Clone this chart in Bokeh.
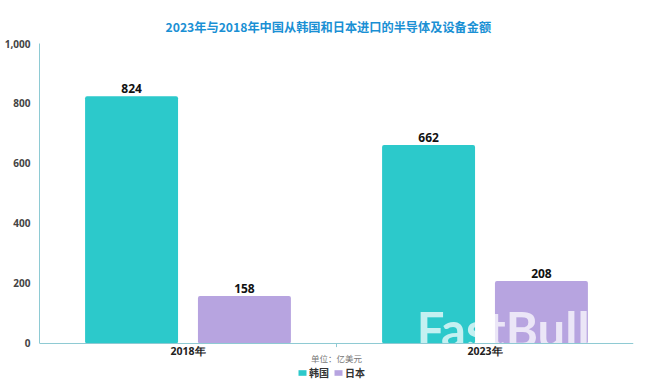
from bokeh.plotting import figure
from bokeh.models import (ColumnDataSource, FactorRange, Range1d, Label, Legend,
                          LegendItem, NumeralTickFormatter, FixedTicker, Span)
from bokeh.transform import dodge
from bokeh.core.properties import value
from bokeh.embed import file_html
from bokeh.resources import INLINE

# ---- data ----
years = ["2018年", "2023年"]
korea = [824, 662]
japan = [158, 208]
series = ["韩国", "日本"]
colors = ["#2cc9cb", "#b7a4e0"]
y_ticks = [0, 200, 400, 600, 800, 1000]
title_text = "2023年与2018年中国从韩国和日本进口的半导体及设备金额"
unit_text = "单位：亿美元"

src = ColumnDataSource(dict(
    year=years, korea=korea, japan=japan,
    korea_lbl=[str(v) for v in korea], japan_lbl=[str(v) for v in japan],
))

CJK = "Noto Sans CJK SC"
NUM = "Open Sans"
AX = "#8ecad3"

p = figure(x_range=FactorRange(*years, range_padding=0, factor_padding=0),
           y_range=Range1d(-126.67, 1000),
           frame_width=594, frame_height=338, width=658, height=381,
           x_axis_location=None,
           output_backend="svg", toolbar_location=None,
           min_border_left=39, min_border_right=25, min_border_top=43, min_border_bottom=0)

p.title.text = title_text
p.title.align = "left"
p.title.offset = 126
p.title.text_color = "#1a90d4"
p.title.text_font = CJK
p.title.text_font_size = "12.2px"
p.title.text_font_style = "bold"
p.title.standoff = 15

off = 0.19
w = 0.313
r1 = p.vbar(x=dodge("year", -off, range=p.x_range), top="korea", width=w, source=src,
            fill_color=colors[0], line_color=None, border_radius=2)
r2 = p.vbar(x=dodge("year", off, range=p.x_range), top="japan", width=w, source=src,
            fill_color=colors[1], line_color=None, border_radius=2)

p.text(x=dodge("year", -off, range=p.x_range), y="korea", text="korea_lbl", source=src,
       text_align="center", text_baseline="bottom", y_offset=-3,
       text_font=value(NUM), text_font_size="12px", text_font_style="bold", text_color="#111111")
p.text(x=dodge("year", off, range=p.x_range), y="japan", text="japan_lbl", source=src,
       text_align="center", text_baseline="bottom", y_offset=-3,
       text_font=value(NUM), text_font_size="12px", text_font_style="bold", text_color="#111111")

p.xgrid.visible = False
p.ygrid.visible = False
p.outline_line_color = None

ya = p.yaxis[0]
ya.bounds = (0, 1000)
ya.ticker = FixedTicker(ticks=y_ticks)
ya.formatter = NumeralTickFormatter(format="0,0")
ya.major_tick_line_color = None
ya.minor_tick_line_color = None
ya.axis_line_color = AX
ya.major_label_standoff = 3
ya.major_label_text_font = NUM
ya.major_label_text_font_size = "10px"
ya.major_label_text_font_style = "bold"
ya.major_label_text_color = "#444444"

# watermark (drawn before the axis labels)
p.text(x=[1.27], y=[47], text=["FastBull"], text_align="left", text_baseline="alphabetic",
       text_font=value("Lato"), text_font_size="49px", text_font_style="bold",
       text_color="white", text_alpha=0.72)

# x axis line, category labels and divider tick
p.add_layout(Span(location=0, dimension="width", line_color=AX, line_width=1))
p.text(x=years, y=[0, 0], text=years, text_align="center", text_baseline="middle", y_offset=8,
       text_font=value(NUM), text_font_size="10.5px", text_font_style="bold", text_color="#222222")
p.segment(x0=[1.0], y0=[0], x1=[1.0], y1=[-12], line_color=AX, line_width=1)

# unit label
p.add_layout(Label(x=1.0, y=-50, text=unit_text, text_align="center", text_baseline="middle",
                   text_font=CJK, text_font_size="8.5px", text_color="#777777"))

legend = Legend(items=[LegendItem(label=series[0], renderers=[r1]),
                       LegendItem(label=series[1], renderers=[r2])],
                orientation="horizontal", location=(258, 1),
                glyph_width=10, glyph_height=7, label_height=12, label_standoff=2,
                spacing=4, padding=0, margin=0,
                label_text_font=CJK, label_text_font_size="10px", label_text_font_style="bold",
                label_text_color="#333333", border_line_color=None, background_fill_alpha=0)
p.add_layout(legend)

open("out.html", "w").write(file_html(p, INLINE))
